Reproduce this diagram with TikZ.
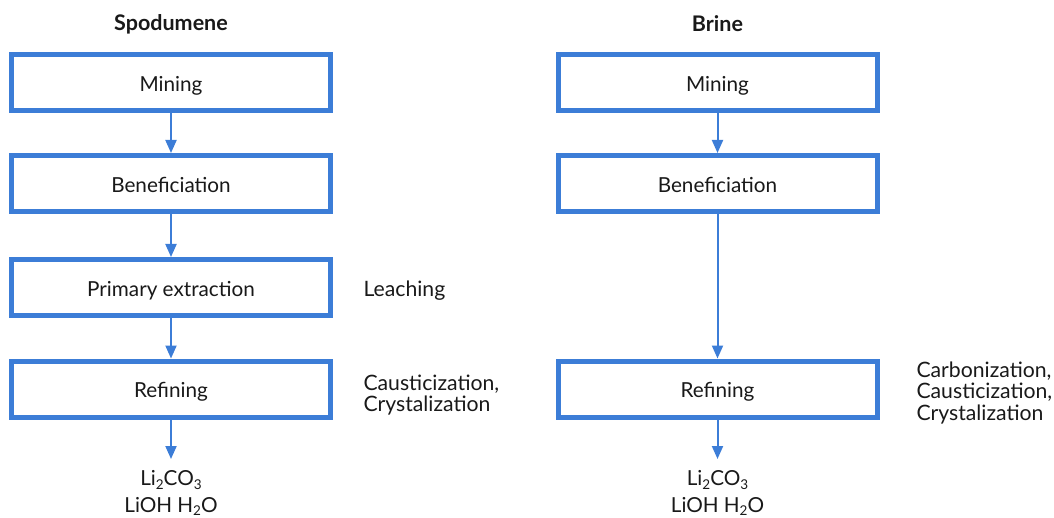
\documentclass[tikz,border=0pt]{standalone}
\usepackage{fontspec}
\setmainfont{Lato}
\usetikzlibrary{arrows.meta}
\definecolor{flowblue}{RGB}{60,125,215}
\definecolor{ink}{RGB}{25,25,25}
\tikzset{
  stepbox/.style={draw=flowblue, line width=5pt, fill=white, minimum width=319pt, minimum height=56pt, inner sep=0pt, text=ink, font=\fontsize{20.7}{24}\selectfont, text height=17.8pt, text depth=0pt},
  flow/.style={draw=flowblue, line width=2pt, -{Triangle[length=13pt,width=11pt]}},
  title/.style={text=ink, font=\fontsize{21.5}{24}\selectfont\bfseries},
  note/.style={text=ink, font=\fontsize{21.2}{21.5}\selectfont, align=left, anchor=west},
  product/.style={text=ink, font=\fontsize{20.7}{24}\selectfont, inner sep=1pt}
}
\newcommand{\sub}[1]{\raisebox{-0.35ex}{\fontsize{13.5}{13.5}\selectfont #1}}
\begin{document}
\begin{tikzpicture}[x=1pt,y=-1pt]
\useasboundingbox (0,0) rectangle (1054,518);
% Spodumene column
\node[title] (t1) at (171,24) {Spodumene};
\node[stepbox] (s1) at (171,82.5) {Mining};
\node[stepbox] (s2) at (171,183.5) {Beneficiation};
\node[stepbox] (s3) at (171,287.5) {Primary extraction};
\node[stepbox] (s4) at (171,389) {Refining};
\coordinate (s5) at (171,459);
\node[product] (p1) at (171,480) {Li\sub{2}CO\sub{3}};
\node[product] (p2) at (171,506.5) {LiOH H\sub{2}O};
\draw[flow] (s1) -- (s2);
\draw[flow] (s2) -- (s3);
\draw[flow] (s3) -- (s4);
\draw[flow] (s4) -- (s5);
\node[note] (n1) at (360,291) {Leaching};
\node[note] (n2) at (360,395) {Causticization,\\Crystalization};
% Brine column
\node[title] (t2) at (717.5,24) {Brine};
\node[stepbox] (b1) at (717.5,82.5) {Mining};
\node[stepbox] (b2) at (717.5,183.5) {Beneficiation};
\node[stepbox] (b4) at (717.5,389) {Refining};
\coordinate (b5) at (717.5,459);
\node[product] (q1) at (717.5,480) {Li\sub{2}CO\sub{3}};
\node[product] (q2) at (717.5,506.5) {LiOH H\sub{2}O};
\draw[flow] (b1) -- (b2);
\draw[flow] (b2) -- (b4);
\draw[flow] (b4) -- (b5);
\node[note] (n3) at (913,393) {Carbonization,\\Causticization,\\Crystalization};
\end{tikzpicture}
\end{document}
